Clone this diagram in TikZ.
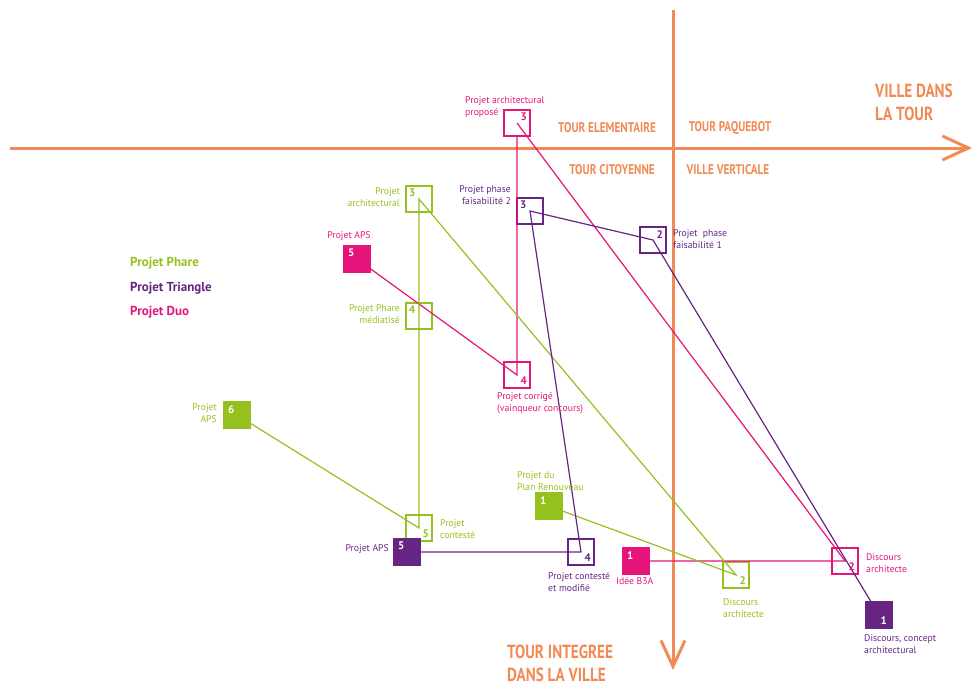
\documentclass[tikz,border=0pt]{standalone}
\usepackage{fontspec}
\setmainfont{PT Sans}
\newfontfamily\condfont[FakeStretch=0.8]{PT Sans}
\usetikzlibrary{arrows.meta}
\definecolor{orng}{RGB}{241,138,84}
\definecolor{grn}{RGB}{149,193,31}
\definecolor{prp}{RGB}{102,36,131}
\definecolor{pnk}{RGB}{230,20,122}
\begin{document}
\begin{tikzpicture}[x=1pt,y=-1pt,
  axis/.style={draw=orng,line width=3pt,-{Straight Barb[length=26pt,width=24pt]}},
  region/.style={text=orng,font=\condfont\bfseries\fontsize{14}{16}\selectfont,inner sep=0pt},
  bigregion/.style={text=orng,font=\condfont\bfseries\fontsize{19}{23}\selectfont,inner sep=0pt,align=left},
  legend/.style={font=\bfseries\fontsize{13}{15}\selectfont,inner sep=0pt,anchor=north west},
  conn/.style={line width=1.2pt},
  sqo/.style={rectangle,minimum size=26pt,inner sep=0pt,outer sep=0pt,line width=1.2pt,draw=#1},
  sqf/.style={rectangle,minimum size=26pt,inner sep=0pt,outer sep=0pt,line width=1.2pt,draw=#1,fill=#1},
  lbl/.style={text=#1,font=\fontsize{9.7}{12}\selectfont,inner sep=0pt,align=left},
  lblr/.style={text=#1,font=\fontsize{9.7}{12}\selectfont,inner sep=0pt,align=right},
  num/.style={text=#1,font=\bfseries\fontsize{11}{11}\selectfont,inner sep=0pt}
]
\useasboundingbox (0,0) rectangle (976,686);

% axes
\coordinate (hx0) at (10,148);
\coordinate (hx1) at (972,148);
\coordinate (vy0) at (673,10);
\coordinate (vy1) at (673,670);
\draw[axis] (hx0) -- (hx1);
\draw[axis] (vy0) -- (vy1);

% region labels
\node[region] (r1) at (607,128) {TOUR ELEMENTAIRE};
\node[region] (r2) at (730,128) {TOUR PAQUEBOT};
\node[region] (r3) at (612,170) {TOUR CITOYENNE};
\node[region] (r4) at (728,170) {VILLE VERTICALE};
\node[bigregion,anchor=north west] (b1) at (875,84) {VILLE DANS\\LA TOUR};
\node[bigregion,anchor=north west] (b2) at (507,645) {TOUR INTEGREE\\DANS LA VILLE};

% legend
\node[legend,text=grn] (lg1) at (130,257) {Projet Phare};
\node[legend,text=prp] (lg2) at (130,282) {Projet Triangle};
\node[legend,text=pnk] (lg3) at (130,306) {Projet Duo};

% square positions (coordinates)
\coordinate (cp1) at (636,561);
\coordinate (cp2) at (845,561);
\coordinate (cp3) at (517,123);
\coordinate (cp4) at (517,375);
\coordinate (cp5) at (357,259);

\coordinate (cg1) at (549,506);
\coordinate (cg2) at (736,575);
\coordinate (cg3) at (419,199);
\coordinate (cg4) at (419,316);
\coordinate (cg5) at (419,528);
\coordinate (cg6) at (237,415);

\coordinate (ct1) at (879,615);
\coordinate (ct2) at (653,240);
\coordinate (ct3) at (530,211);
\coordinate (ct4) at (581,552);
\coordinate (ct5) at (407,552);

% squares (nodes)
\node[sqo=pnk] (p3) at (cp3) {};
\node[sqo=pnk] (p4) at (cp4) {};
\node[sqo=pnk] (p2) at (cp2) {};
\node[sqo=grn] (g2) at (cg2) {};
\node[sqo=grn] (g3) at (cg3) {};
\node[sqo=grn] (g4) at (cg4) {};
\node[sqo=grn] (g5) at (cg5) {};
\node[sqo=prp] (t2) at (ct2) {};
\node[sqo=prp] (t3) at (ct3) {};
\node[sqo=prp] (t4) at (ct4) {};

% connectors
\draw[conn,pnk] (cp1) -- (p2.center) -- (p3.center);
\draw[conn,pnk] (p3.south) -- (p4.center) -- (cp5);
\draw[conn,grn] (cg1) -- (g2.center) -- (g3.center) -- (g4.center) -- (g5.center) -- (cg6);
\draw[conn,prp] (ct1) -- (t2.center) -- (t3.center) -- (t4.center) -- (ct5);

% filled squares on top
\node[sqf=pnk] (p1) at (cp1) {};
\node[sqf=pnk] (p5) at (cp5) {};
\node[sqf=grn] (g1) at (cg1) {};
\node[sqf=grn] (g6) at (cg6) {};
\node[sqf=prp] (t1) at (ct1) {};
\node[sqf=prp] (t5) at (ct5) {};

% numbers
\node[num=pnk,anchor=north east,xshift=-3pt,yshift=-3pt] (np3) at (p3.north east) {3};
\node[num=pnk,anchor=south east,xshift=-3pt,yshift=3pt] (np4) at (p4.south east) {4};
\node[num=pnk,anchor=south east,xshift=-3pt,yshift=3pt] (np2) at (p2.south east) {2};
\node[num=white,anchor=north west,xshift=4pt,yshift=-3pt] (np1) at (p1.north west) {1};
\node[num=white,anchor=north west,xshift=4pt,yshift=-3pt] (np5) at (p5.north west) {5};

\node[num=grn,anchor=north west,xshift=3pt,yshift=-3pt] (ng3) at (g3.north west) {3};
\node[num=grn,anchor=north west,xshift=3pt,yshift=-3pt] (ng4) at (g4.north west) {4};
\node[num=grn,anchor=south east,xshift=-3pt,yshift=3pt] (ng5) at (g5.south east) {5};
\node[num=grn,anchor=south east,xshift=-3pt,yshift=3pt] (ng2) at (g2.south east) {2};
\node[num=white,anchor=north west,xshift=4pt,yshift=-3pt] (ng1) at (g1.north west) {1};
\node[num=white,anchor=north west,xshift=4pt,yshift=-3pt] (ng6) at (g6.north west) {6};

\node[num=prp,anchor=north west,xshift=3pt,yshift=-3pt] (nt3) at (t3.north west) {3};
\node[num=prp,anchor=north east,xshift=-3pt,yshift=-3pt] (nt2) at (t2.north east) {2};
\node[num=prp,anchor=south east,xshift=-3pt,yshift=3pt] (nt4) at (t4.south east) {4};
\node[num=white,anchor=north west,xshift=4pt,yshift=-3pt] (nt5) at (t5.north west) {5};
\node[num=white,anchor=south east,xshift=-5pt,yshift=3pt] (nt1) at (t1.south east) {1};

% labels
\node[lbl=pnk,anchor=north west] (lp3) at (465,96) {Projet architectural\\propos\'e};
\node[lbl=pnk,anchor=north] (lp5) at (349,231) {Projet APS};
\node[lbl=pnk,anchor=north west] (lp4) at (497,392) {Projet corrig\'e\\(vainqueur concours)};
\node[lbl=pnk,anchor=north west] (lp1) at (616,577) {Id\'ee B3A};
\node[lbl=pnk,anchor=north west] (lp2) at (866,553) {Discours\\architecte};

\node[lblr=grn,anchor=north east] (lg3b) at (400,187) {Projet\\architectural};
\node[lblr=grn,anchor=north east] (lg4b) at (400,304) {Projet Phare\\m\'ediatis\'e};
\node[lbl=grn,anchor=north west] (lg5b) at (440,519) {Projet\\contest\'e};
\node[lblr=grn,anchor=north east] (lg6b) at (217,403) {Projet\\APS};
\node[lbl=grn,anchor=north west] (lg1b) at (517,471) {Projet du\\Plan Renouveau};
\node[lbl=grn,anchor=north west] (lg2b) at (723,598) {Discours\\architecte};

\node[lblr=prp,anchor=north east] (lt3) at (511,185) {Projet phase\\faisabilit\'e 2};
\node[lbl=prp,anchor=north west] (lt2) at (673,229) {Projet~ phase\\faisabilit\'e 1};
\node[lbl=prp,anchor=north west] (lt4) at (548,572) {Projet contest\'e\\et modifi\'e};
\node[lblr=prp,anchor=north east] (lt5) at (389,544) {Projet APS};
\node[lbl=prp,anchor=north west] (lt1) at (864,634) {Discours, concept\\architectural};
\end{tikzpicture}
\end{document}
